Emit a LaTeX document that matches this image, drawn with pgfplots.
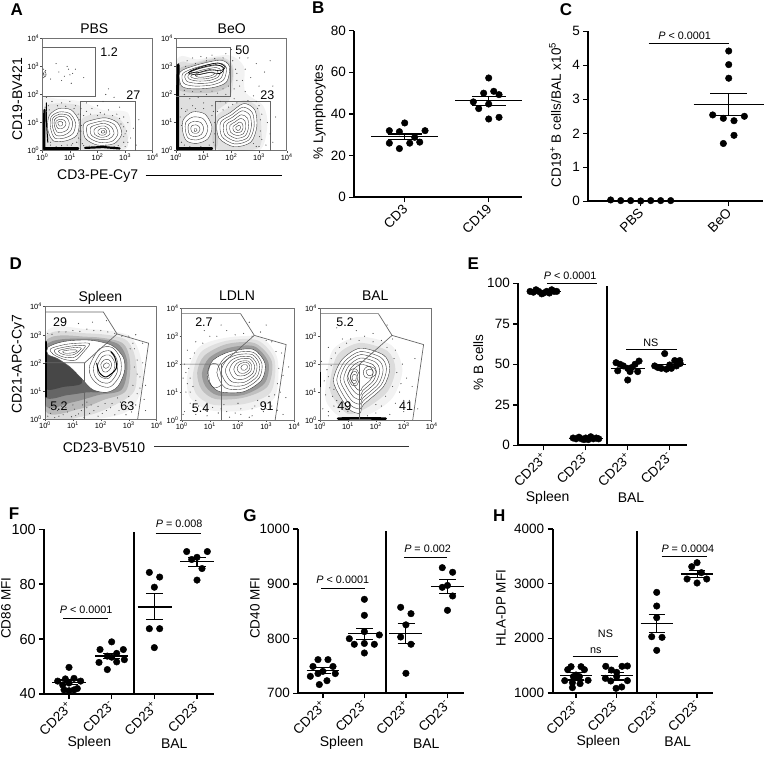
\documentclass[border=0pt]{standalone}
\usepackage{fontspec}
\setmainfont{Liberation Sans}
\usepackage{pgfplots}
\pgfplotsset{compat=1.18}

% 1 px of the reference = 1 pt here
\pgfplotsset{
  dot/.style={scale only axis, clip=false, axis lines=left,
    axis line style={line width=1.7pt,-}, tick style={line width=1.5pt,black},
    major tick length=5pt, tick align=outside, xtick={0,1,2,3},
    tick label style={font=\fontsize{13.5}{15}\selectfont},
    xticklabel style={xshift=-3pt,rotate=45,anchor=north east,inner sep=0.5pt,font=\fontsize{13.5}{15}\selectfont},
    /pgf/number format/assume math mode=true, /pgf/number format/1000 sep={}, scaled ticks=false},
  flow/.style={scale only axis, width=112pt, height=112pt, xmin=0,xmax=4,ymin=0,ymax=4,
    xtick={0,1,2,3,4}, ytick={0,1,2,3,4},
    xticklabels={10\textsuperscript{0},10\textsuperscript{1},10\textsuperscript{2},10\textsuperscript{3},10\textsuperscript{4}},
    yticklabels={10\textsuperscript{0},10\textsuperscript{1},10\textsuperscript{2},10\textsuperscript{3},10\textsuperscript{4}},
    xtick pos=bottom, ytick pos=left, tick align=outside, major tick length=2pt,
    axis line style={black!55,line width=0.6pt}, tick style={black!70,line width=0.4pt},
    tick label style={font=\fontsize{7.5}{8}\selectfont,inner sep=1pt}},
  pts/.style={only marks,mark=*,mark size=3.3pt,black},
  mn/.style={black,line width=1.1pt},
  sg/.style={black,line width=0.9pt},
  dv/.style={black,line width=1.8pt},
  spk/.style={only marks,mark=*,mark size=0.28pt,black!70},
  ctr/.style={draw=black!78,line width=0.38pt,smooth cycle},
  dkr/.style={draw=black,line width=0.6pt,smooth cycle},
  top/.style={draw=black!78,line width=0.38pt,fill=white,smooth cycle},
  hal/.style={draw=none,fill=black,fill opacity=#1,smooth cycle},
  gate/.style={black!60,line width=0.7pt},
  band/.style={black,line width=#1,line cap=round},
}
\newcommand\lab[4][]{\node[#1] at (#2pt,{(758-#3)*1pt}) {#4};}
\newcommand\stats[8]{%
  \addplot[mn] coordinates {(#1,#3)(#2,#3)};
  \addplot[mn] coordinates {(#4,#6)(#5,#6)};
  \addplot[mn] coordinates {(#4,#7)(#5,#7)};
  \addplot[mn] coordinates {(#8,#6)(#8,#7)};}
\newcommand\ring[1]{\addplot[ctr] coordinates {#1};}
\newcommand\fs[1]{\fontsize{#1}{#1}\selectfont}
\newcommand\pv[1]{{\fs{10.8}\textit{P} #1}}
\newcommand\gates{%
  \addplot[gate] coordinates {(0,3.81)(2.09,3.81)(2.58,3.03)(1.42,2.0)(0,2.0)};
  \addplot[gate] coordinates {(2.58,3.03)(3.71,2.7)(3.32,0)};
  \addplot[gate] coordinates {(1.42,2.0)(1.42,0)};}
\def\cdlabels{CD23\textsuperscript{+},CD23\textsuperscript{-},CD23\textsuperscript{+},CD23\textsuperscript{-}}

\begin{document}
\begin{tikzpicture}
\path[use as bounding box] (0,0) rectangle (774pt,758pt);

% panel letters
\lab[font=\fs{17}\bfseries]{16.7}{10}{A}
\lab[font=\fs{17}\bfseries]{318.3}{8}{B}
\lab[font=\fs{17}\bfseries]{566}{9.3}{C}
\lab[font=\fs{17}\bfseries]{15.7}{263.3}{D}
\lab[font=\fs{17}\bfseries]{473.3}{263.5}{E}
\lab[font=\fs{17}\bfseries]{14}{514}{F}
\lab[font=\fs{17}\bfseries]{250}{516}{G}
\lab[font=\fs{17}\bfseries]{499.3}{515.7}{H}

% ---------- A, PBS
\begin{axis}[flow, at={(42.3pt,607.3pt)}, anchor=south west, width=110.4pt, height=112.4pt]
\addplot[hal=0.04] coordinates {(0,0)(1.3,0)(2.6,0)(3.15,.5)(3.1,1.35)(2.2,1.45)(1.4,1.75)(.5,1.85)(0,1.8)};
\addplot[hal=0.07] coordinates {(.05,.05)(1.35,.05)(1.38,1.1)(1.35,1.6)(.5,1.68)(.08,1.5)};
\addplot[hal=0.07] coordinates {(1.4,.05)(3,.05)(3.02,.8)(2.7,1.2)(2,1.3)(1.42,1.1)};
\addplot[spk] coordinates {(.6,2.8)(.9,3.0)(1.0,2.7)(.7,2.5)(1.2,2.9)(1.05,2.4)(.5,3.1)(1.5,2.6)(.3,2.55)(.95,2.9)(.8,2.65)(1.1,2.75)(2.3,2.0)(2.4,2.2)(2.2,1.75)(2.6,1.9)(.05,2.75)(.05,2.6)(.1,2.7)(.12,2.85)(.05,2.9)
 (1.4,1.5)(1.6,1.4)(1.8,1.5)(2.1,1.35)(2.4,1.45)(2.7,1.3)(2.95,1.2)(3.1,1.0)(3.05,.7)(3.2,.45)(3.1,.3)(2.95,.5)(1.38,1.3)(1.42,.9)(.15,1.9)(.35,1.75)(.7,1.7)(1,1.75)(1.2,1.6)(.1,1.55)(.15,1.4)(1.38,.4)(1.45,.25)(.3,.2)(.5,.15)(.9,.2)(1.1,.25)(1.25,.3)(1.9,.15)(2.3,.2)(2.6,.15)(3,.15)(2.85,.95)(3.3,.8)(3.4,.2)(3.5,1.1)(.22,1.6)(1.6,1.7)(2,1.6)(2.8,1.55)
 (1.36,1.1)(1.4,.7)(1.5,1.25)(1.75,1.3)(2,1.25)(2.25,1.3)(2.55,1.25)(2.8,1.15)(2.95,.85)(3,.6)(2.95,.3)(2.75,.18)(1.5,.18)(1.7,.16)(.25,1.45)(.55,1.6)(.85,1.58)(1.15,1.5)(1.3,1.3)(1.36,.7)(1.32,.45)(1.05,.2)(.7,.18)(.3,.3)(.2,.45)};
\addplot[band=2.4pt] coordinates {(.07,.05)(.07,.9)(.08,1.45)};
\addplot[band=1pt] coordinates {(.15,1.7)(.15,1.0)(.2,.3)};
\addplot[band=2.2pt] coordinates {(.1,.08)(.7,.08)(1.3,.08)};
\addplot[band=2.2pt] coordinates {(1.55,.1)(2.2,.13)(2.8,.08)};
\addplot[top] coordinates {(.25,1.25)(.6,1.5)(1.05,1.45)(1.33,1.05)(1.25,.55)(.85,.35)(.4,.35)(.2,.75)};
\ring{(.32,1.2)(.62,1.38)(1.0,1.32)(1.2,1.0)(1.12,.62)(.8,.45)(.45,.45)(.3,.8)}
\ring{(.38,1.15)(.62,1.3)(.95,1.25)(1.1,1.0)(1.02,.7)(.78,.55)(.5,.55)(.37,.85)}
\ring{(.44,1.1)(.62,1.22)(.88,1.18)(.98,.98)(.92,.76)(.74,.66)(.54,.66)(.44,.88)}
\ring{(.5,1.05)(.64,1.12)(.8,1.08)(.86,.96)(.8,.84)(.68,.78)(.56,.8)(.5,.92)}
\ring{(.56,1)(.66,1.05)(.74,1)(.72,.9)(.62,.88)}
\addplot[top] coordinates {(1.5,.95)(1.85,1.1)(2.3,1.17)(2.72,1.0)(2.88,.6)(2.6,.25)(2.0,.2)(1.55,.45)};
\ring{(1.62,.88)(1.9,1.0)(2.28,1.06)(2.62,.92)(2.74,.6)(2.52,.33)(2.05,.3)(1.66,.5)}
\ring{(1.75,.82)(1.98,.93)(2.26,.97)(2.5,.85)(2.6,.6)(2.42,.42)(2.08,.4)(1.78,.55)}
\ring{(1.88,.76)(2.05,.86)(2.25,.88)(2.4,.78)(2.45,.6)(2.32,.5)(2.1,.48)(1.9,.58)}
\ring{(2.02,.72)(2.15,.8)(2.28,.78)(2.34,.66)(2.25,.56)(2.1,.56)(2.02,.62)}
\ring{(2.14,.7)(2.24,.72)(2.28,.66)(2.2,.62)(2.14,.64)}
\ring{(.04,2.75)(.1,2.82)(.14,2.7)(.08,2.62)}
\addplot[gate] coordinates {(0,3.68)(1.93,3.68)(1.93,1.92)(0,1.92)};
\addplot[gate] coordinates {(1.38,0)(1.38,1.76)(3.37,1.76)(3.37,0)};
\node[font=\fs{12.5}] at (axis cs:2.42,3.5) {1.2};
\node[font=\fs{12.5}] at (axis cs:3.3,1.98) {27};
\end{axis}

% ---------- A, BeO
\begin{axis}[flow, at={(176pt,607.3pt)}, anchor=south west, width=110.7pt, height=112.4pt]
\addplot[hal=0.05] coordinates {(0,0)(1.6,0)(3,0)(3.3,.9)(3.15,1.6)(2.5,2.1)(2.45,3)(1.9,3.4)(.8,3.25)(0,3.15)};
\addplot[hal=0.08] coordinates {(.05,.05)(1.45,.1)(1.42,1.3)(1.9,1.75)(2.05,2.3)(2.05,3.05)(1.6,3.33)(.6,3.12)(.05,2.95)};
\addplot[hal=0.1] coordinates {(.05,2.2)(.7,2.05)(1.5,2.1)(2,2.4)(2.02,3)(1.6,3.28)(.7,3.1)(.1,2.9)};
\addplot[hal=0.07] coordinates {(1.42,.08)(2.95,.08)(3.08,.9)(2.95,1.55)(2.45,1.8)(1.85,1.5)(1.42,1.15)};
\addplot[spk] coordinates {(2.3,3.3)(2.5,2.9)(2.7,2.6)(2.4,2.5)(2.2,2.75)(2.6,3.3)(2.9,3.1)(3.2,2.8)(3.0,2.3)(2.8,1.95)(2.5,2.1)(2.3,2.3)(2.1,1.85)(1.8,2)(1.5,2.05)(1.1,2)(.8,1.9)(.5,1.85)(.3,2)(1.6,1.75)(1.3,1.6)(1,1.7)(.6,1.6)(.4,1.45)(1.35,1.4)(1.4,1.0)(1.4,.6)(1.35,.3)(1.42,.2)
 (3,1.6)(3.1,1.3)(3.3,1.0)(3.05,.7)(3.1,.4)(3.25,.2)(3,.15)(2.8,.25)(3.4,.6)(3.5,.3)(3.6,1.2)(2.9,1.75)(2.2,1.7)(1.9,1.55)(1.7,1.45)(.9,3.35)(1.3,3.4)(1.8,3.45)(.4,3.2)(2,3.6)(.1,3.1)(.6,3.3)(1.1,3.3)(3.4,3.2)(3.5,2.3)(1.2,.2)(.9,.15)(.5,.15)(.2,1.5)(.15,1.2)
 (2.1,2.2)(2.2,2.5)(2.15,2.9)(2.05,3.2)(1.7,3.3)(1.4,3.28)(1.1,3.2)(.7,3.1)(.35,3)(.3,2.15)(.6,2.1)(.9,2.1)(1.3,2.12)(1.7,2.2)(1.9,2.3)(1.5,1.4)(1.8,1.7)(2.05,1.65)(2.6,1.78)(2.95,1.5)(3.05,1.1)(3.02,.5)(2.9,.15)(.2,.3)(.3,.2)(.2,.9)(.35,1.4)(.7,1.5)(1,1.5)(1.3,1.25)};
\addplot[band=3pt] coordinates {(.06,.05)(.06,1.2)(.06,2.2)(.08,3.05)};
\addplot[band=2.4pt] coordinates {(.1,.08)(.7,.08)(1.3,.08)};
\addplot[top] coordinates {(.15,2.8)(.75,3.05)(1.6,3.22)(1.93,3.0)(1.83,2.45)(1.35,2.25)(.65,2.2)(.2,2.3)};
\ring{(.25,2.75)(.8,2.98)(1.55,3.12)(1.82,2.95)(1.72,2.52)(1.3,2.34)(.68,2.3)(.28,2.4)}
\ring{(.35,2.72)(.85,2.92)(1.5,3.04)(1.72,2.9)(1.62,2.58)(1.25,2.42)(.72,2.4)(.38,2.48)}
\addplot[dkr] coordinates {(.45,2.78)(.9,2.95)(1.45,3.06)(1.72,2.95)(1.6,2.75)(1.2,2.78)(.75,2.7)};
\addplot[dkr] coordinates {(.5,2.82)(.95,3.0)(1.5,3.12)(1.78,2.98)(1.62,2.85)(1.2,2.88)(.8,2.78)};
\ring{(.45,2.7)(.9,2.86)(1.45,2.96)(1.62,2.85)(1.52,2.62)(1.2,2.5)(.78,2.48)(.48,2.55)}
\ring{(.55,2.68)(.95,2.8)(1.4,2.88)(1.52,2.8)(1.42,2.65)(1.15,2.57)(.82,2.55)(.58,2.6)}
\ring{(.7,2.68)(1.0,2.74)(1.3,2.8)(1.4,2.74)(1.25,2.66)(1,2.62)(.8,2.62)}
\addplot[top] coordinates {(.26,1.1)(.6,1.38)(1.05,1.3)(1.3,.85)(1.15,.42)(.75,.26)(.38,.35)(.24,.7)};
\ring{(.36,1.02)(.62,1.2)(.98,1.14)(1.15,.82)(1.04,.5)(.72,.38)(.44,.45)(.34,.72)}
\ring{(.46,.95)(.66,1.05)(.9,1.0)(1.0,.8)(.92,.58)(.7,.5)(.5,.56)(.44,.75)}
\ring{(.56,.88)(.72,.92)(.84,.85)(.86,.72)(.76,.62)(.6,.64)(.54,.75)}
\ring{(.66,.78)(.74,.78)(.76,.72)(.68,.68)}
\addplot[top] coordinates {(1.5,1.05)(1.95,1.35)(2.45,1.68)(2.85,1.45)(2.92,.85)(2.7,.3)(2.1,.14)(1.55,.45)};
\ring{(1.61,1.01)(2.0,1.27)(2.42,1.55)(2.76,1.35)(2.82,.84)(2.63,.38)(2.12,.24)(1.66,.5)}
\ring{(1.73,.98)(2.04,1.19)(2.39,1.42)(2.67,1.26)(2.72,.84)(2.57,.45)(2.15,.34)(1.76,.56)}
\ring{(1.84,.94)(2.09,1.10)(2.36,1.28)(2.58,1.16)(2.62,.83)(2.5,.53)(2.17,.44)(1.87,.61)}
\ring{(1.95,.9)(2.13,1.02)(2.33,1.15)(2.49,1.06)(2.52,.82)(2.43,.6)(2.19,.54)(1.97,.66)}
\ring{(2.06,.86)(2.18,.94)(2.3,1.02)(2.4,.96)(2.42,.81)(2.36,.68)(2.21,.64)(2.08,.71)}
\ring{(2.16,.83)(2.21,.87)(2.27,.9)(2.32,.88)(2.33,.81)(2.3,.74)(2.23,.72)(2.17,.76)}
\addplot[gate] coordinates {(0,3.68)(1.97,3.68)(1.97,1.92)(0,1.92)};
\addplot[gate] coordinates {(1.42,0)(1.42,1.76)(3.41,1.76)(3.41,0)};
\node[font=\fs{12.5}] at (axis cs:2.4,3.58) {50};
\node[font=\fs{12.5}] at (axis cs:3.3,1.96) {23};
\end{axis}

\lab[font=\fs{14}]{94.3}{29}{PBS}
\lab[font=\fs{14}]{231.7}{29}{BeO}
\lab[font=\fs{14},rotate=90]{17.3}{99}{CD19-BV421}
\lab[font=\fs{14}]{97.7}{176}{CD3-PE-Cy7}
\draw[black,line width=0.9pt] (145.7pt,582.7pt) -- (282pt,582.7pt);

% ---------- B
\begin{axis}[dot, at={(354.3pt,560.7pt)}, anchor=south west, width=168pt, height=166.6pt,
  xmin=-0.6, xmax=1.4, ymin=0, ymax=80, ytick={0,20,40,60,80},
  xtick={0,1}, xticklabels={CD3,CD19}]
\addplot[pts] coordinates {(0,35.7)(-.183,32)(-.063,31.5)(.242,32)(.119,28.8)(-.183,26)(.06,26)(.179,26.5)(-.063,23.4)};
\addplot[pts] coordinates {(1,57.3)(.94,50)(1.06,50.9)(1.123,49.3)(.817,45.8)(1,44.8)(.881,42.6)(1,37.6)(1.123,38.4)};
\stats{-.4}{.4}{29.1}{-.2}{.2}{30.4}{27.8}{0}
\stats{.6}{1.4}{46.4}{.8}{1.2}{48.5}{44.2}{1}
\end{axis}
\lab[font=\fs{13.5},rotate=90]{319.3}{112.3}{\% Lymphocytes}

% ---------- C
\begin{axis}[dot, at={(588.3pt,556.7pt)}, anchor=south west, width=174.4pt, height=170pt,
  xmin=-0.595, xmax=1.386, ymin=0, ymax=5, ytick={0,1,2,3,4,5},
  xtick={0,1}, xticklabels={PBS,BeO}]
\addplot[pts] coordinates {(-.341,.04)(-.227,.02)(-.114,.02)(0,.01)(.114,.02)(.227,.02)(.341,.02)};
\addplot[pts] coordinates {(1,4.42)(1,4.02)(1,3.62)(.818,2.54)(.939,2.44)(1.06,2.37)(1.178,2.5)(1.06,1.94)(.939,1.7)};
\stats{.6}{1.4}{2.84}{.79}{1.21}{3.16}{2.52}{1}
\addplot[sg] coordinates {(.09,4.65)(1,4.65)};
\node[font=\fs{10.8}] at (axis cs:.5,4.87) {\pv{< 0.0001}};
\end{axis}
\lab[font=\fs{13.5},rotate=90]{555}{115}{CD19\textsuperscript{+} B cells/BAL x10\textsuperscript{5}}

% ---------- D, Spleen
\begin{axis}[flow, at={(45pt,339pt)}, anchor=south west, width=111.7pt, height=112.3pt]
\addplot[hal=0.05] coordinates {(0,0)(1.8,0)(3,.3)(3.5,1.2)(3.4,2.3)(2.95,3)(1.5,3.2)(0,3.05)};
\addplot[hal=0.09] coordinates {(0,.1)(1.4,.1)(2.4,.45)(3.2,1)(3.25,2.1)(2.85,2.85)(1.5,3.05)(0,2.9)};
\addplot[hal=0.16] coordinates {(0,.3)(1.2,.35)(2.1,.68)(2.9,1.0)(3.05,2.0)(2.75,2.72)(1.5,2.93)(0,2.75)};
\addplot[hal=0.22] coordinates {(0,.5)(1,.6)(1.9,.85)(2.75,1.05)(2.95,2)(2.6,2.68)(1.5,2.86)(0,2.6)};
\addplot[hal=0.3] coordinates {(0,.8)(.8,.85)(1.5,.95)(2.0,1.0)(1.2,1.6)(.6,2.05)(0,2.3)};
\addplot[hal=0.3] coordinates {(0,1.1)(.7,1.15)(1.3,1.25)(1.2,1.6)(.6,2.05)(0,2.3)};
\addplot[spk] coordinates {(.2,.2)(.5,.1)(.8,.25)(1.1,.12)(1.3,.3)(1.6,.2)(1.9,.1)(2.2,.3)(2.5,.15)(2.8,.35)(3.1,.6)(3.3,.9)(3.4,1.5)(3.5,2)(3.2,2.5)(3,2.95)(2.5,3.05)(2,3.15)(1.5,3.2)(1,3.15)(.5,3.1)(.1,3.05)(3.6,1.2)(3.55,.7)(.6,.45)(1,.5)(1.5,.6)(2.4,.55)(2.7,.6)(3.1,.25)(3.6,.3)(2.9,.15)(1.4,.05)(.35,.35)(1.9,.45)(3.25,3)(3.5,2.7)(1.2,3.4)(2.2,3.5)(.7,3.6)(1.7,3.45)
 (.1,.1)(.35,.05)(.65,.15)(.95,.08)(1.2,.18)(1.5,.4)(1.75,.3)(2.05,.2)(2.35,.4)(2.65,.3)(2.95,.45)(3.25,.5)(3.4,1.1)(3.3,1.6)(3.3,2.1)(3.15,2.7)(2.75,2.95)(2.25,3.1)(1.75,3.15)(1.25,3.12)(.75,3.1)(.25,3.02)(.15,.4)(.45,.3)(.75,.4)(1.05,.35)(1.35,.5)(1.65,.5)(2.15,.55)(2.6,.75)(3,.8)(3.15,1.2)(3.2,1.85)(3.05,2.5)};
\addplot[band=2pt] coordinates {(.03,.8)(.03,1.6)(.03,2.75)};
\addplot[top] coordinates {(.1,2.55)(.5,2.72)(1.0,2.8)(1.7,2.8)(2.4,2.62)(2.8,2.2)(2.85,1.7)(2.6,1.15)(2.2,.95)(1.7,1.05)(1.3,1.45)(.9,1.85)(.45,2.15)(.1,2.3)};
\ring{(.2,2.5)(.7,2.65)(1.2,2.7)(1.6,2.68)(1.35,2.35)(1.1,2.1)(.7,2.12)(.3,2.3)}
\ring{(.35,2.47)(.8,2.58)(1.2,2.62)(1.45,2.6)(1.25,2.35)(1.05,2.2)(.7,2.2)(.4,2.32)}
\ring{(.5,2.44)(.85,2.52)(1.15,2.55)(1.3,2.52)(1.15,2.36)(.98,2.28)(.72,2.28)(.52,2.36)}
\ring{(.65,2.42)(.9,2.46)(1.1,2.46)(1.15,2.42)(1.0,2.36)(.8,2.34)(.66,2.36)}
\ring{(1.6,1.9)(1.95,2.5)(2.4,2.55)(2.7,2.15)(2.7,1.6)(2.35,1.15)(1.95,1.2)(1.65,1.5)}
\ring{(1.75,1.9)(2.0,2.35)(2.35,2.42)(2.58,2.1)(2.58,1.65)(2.32,1.3)(2.0,1.32)(1.78,1.55)}
\ring{(1.88,1.9)(2.05,2.22)(2.3,2.28)(2.48,2.05)(2.46,1.7)(2.28,1.45)(2.05,1.47)(1.9,1.62)}
\ring{(2.0,1.95)(2.12,2.1)(2.28,2.12)(2.38,1.98)(2.35,1.8)(2.22,1.68)(2.08,1.7)}
\ring{(2.1,1.93)(2.2,2.0)(2.3,1.95)(2.28,1.85)(2.18,1.8)(2.1,1.85)}
\addplot[black,line width=1pt,smooth] coordinates {(1.85,2.0)(1.95,1.65)(2.2,1.5)(2.55,1.8)(2.5,2.2)(2.35,2.4)};
\gates
\node[font=\fs{12.5}] at (axis cs:.54,3.44) {29};
\node[font=\fs{12.5}] at (axis cs:.5,.44) {5.2};
\node[font=\fs{12.5}] at (axis cs:2.95,.44) {63};
\end{axis}

% ---------- D, LDLN
\begin{axis}[flow, at={(181.7pt,338pt)}, anchor=south west, width=112.6pt, height=111.7pt]
\addplot[hal=0.05] coordinates {(.2,1.6)(.6,2.6)(1.6,2.95)(2.8,2.95)(3.4,2.2)(3.3,.8)(2.3,.35)(1.0,.35)(.3,.8)};
\addplot[hal=0.08] coordinates {(.4,1.65)(.7,2.45)(1.6,2.84)(2.7,2.85)(3.3,2.15)(3.17,1.0)(2.25,.58)(1.1,.55)(.5,.95)};
\addplot[hal=0.14] coordinates {(.55,1.7)(.8,2.3)(1.6,2.72)(2.6,2.75)(3.2,2.1)(3.05,1.2)(2.2,.8)(1.2,.75)(.7,1.1)};
\addplot[hal=0.2] coordinates {(.72,1.68)(.97,2.22)(1.66,2.58)(2.57,2.64)(3.08,2.06)(2.95,1.32)(2.2,.9)(1.28,.88)(.85,1.2)};
\addplot[spk] coordinates {(.1,.3)(.5,.2)(.9,.15)(1.3,.25)(1.7,.1)(2.1,.2)(2.5,.15)(2.9,.3)(3.2,.5)(3.5,1)(3.6,1.6)(3.55,2.4)(3.2,2.8)(2.8,3.15)(2.2,3.1)(1.6,3.2)(1,3)(.5,2.8)(.2,2.5)(.1,2)(.05,1.5)(.15,1)(.3,.6)(.6,.5)(1.1,.45)(1.6,.3)(2.1,.4)(2.6,.5)(3,.4)(3.4,.35)(3.7,.8)(3.8,1.9)(.4,1.2)(.15,1.7)(.3,2.2)(1.4,3.4)(2.4,3.5)(.8,3.2)(3,3.4)(.05,.2)(3.6,.2)(2.4,.1)
 (.3,1.5)(.25,1.85)(.45,2.4)(.75,2.75)(1.25,3)(1.9,3.05)(2.5,3)(3,2.85)(3.35,2.45)(3.45,1.85)(3.4,1.3)(3.3,.9)(2.95,.6)(2.5,.4)(1.9,.25)(1.4,.4)(.85,.35)(.5,.7)(.3,1)(.2,1.3)(.9,.6)(1.5,.55)(2,.6)(2.7,.7)(3.1,.85)};
\addplot[top] coordinates {(.91,1.67)(1.12,2.15)(1.72,2.45)(2.54,2.53)(2.96,2.03)(2.84,1.43)(2.19,1.01)(1.36,1.01)(1.0,1.31)};
\ring{(.95,1.75)(1.05,2.0)(1.3,1.95)(1.42,1.3)(1.15,1.15)(1.0,1.35)}
\ring{(1.25,1.7)(1.5,2.2)(1.95,2.42)(2.55,2.42)(2.85,2.02)(2.75,1.5)(2.2,1.12)(1.55,1.15)}
\ring{(1.4,1.73)(1.61,2.16)(2,2.34)(2.51,2.34)(2.76,2)(2.68,1.56)(2.21,1.24)(1.66,1.26)}
\ring{(1.55,1.76)(1.73,2.11)(2.04,2.26)(2.46,2.26)(2.67,1.98)(2.6,1.62)(2.22,1.35)(1.76,1.38)}
\ring{(1.7,1.79)(1.84,2.07)(2.09,2.19)(2.42,2.19)(2.58,1.97)(2.53,1.68)(2.22,1.47)(1.87,1.49)}
\ring{(1.85,1.82)(1.95,2.02)(2.13,2.11)(2.37,2.11)(2.49,1.95)(2.45,1.74)(2.23,1.59)(1.97,1.6)}
\ring{(1.97,1.84)(2.04,1.98)(2.17,2.05)(2.33,2.05)(2.42,1.93)(2.39,1.79)(2.24,1.68)(2.05,1.69)}
\ring{(2.1,1.87)(2.14,1.95)(2.2,1.98)(2.3,1.98)(2.34,1.92)(2.32,1.84)(2.24,1.78)(2.15,1.79)}
\gates
\node[font=\fs{12.5}] at (axis cs:.79,3.5) {2.7};
\node[font=\fs{12.5}] at (axis cs:.67,.42) {5.4};
\node[font=\fs{12.5}] at (axis cs:3.02,.48) {91};
\end{axis}

% ---------- D, BAL
\begin{axis}[flow, at={(320pt,338pt)}, anchor=south west, width=111.7pt, height=111.7pt]
\addplot[hal=0.05] coordinates {(.2,1.2)(.45,2.5)(1.4,2.98)(2.55,2.68)(2.95,1.8)(2.6,.8)(1.75,.2)(.8,.08)(.25,.6)};
\addplot[hal=0.09] coordinates {(.35,1.25)(.62,2.32)(1.42,2.76)(2.42,2.47)(2.7,1.82)(2.42,1.02)(1.65,.42)(1.0,.22)(.5,.75)};
\addplot[spk] coordinates {(.1,.4)(.3,.3)(.2,.9)(.15,1.4)(.25,1.8)(.4,2.2)(.7,2.6)(1.1,2.9)(1.6,3.0)(2.2,2.85)(2.7,2.5)(2.95,2)(3.1,1.5)(2.85,1)(2.7,.6)(2.2,.5)(2,.25)(2.5,.2)(3,.3)(.5,.5)(.7,.3)(1,.3)(3.2,.7)(3.3,1.2)(2.6,2.9)(1.9,3.1)(1.3,3.2)(.8,2.9)(.3,2.6)(.05,2.1)(3.5,.4)(3.4,2.2)(.6,3.3)(2.4,3.4)(.3,.15)(1.7,.15)(.5,1.1)(.45,.85)
 (.3,1.55)(.4,1.95)(.55,2.4)(.95,2.75)(1.4,2.85)(1.9,2.8)(2.4,2.6)(2.65,2.2)(2.75,1.7)(2.6,1.2)(2.35,.85)(2,.55)(.6,.7)(.35,1.15)(2.9,1.3)(3,.7)};
\addplot[band=1.2pt] coordinates {(.03,1.2)(.03,1.7)};
\addplot[band=2.6pt] coordinates {(.65,.05)(1.4,.06)(2.35,.05)};
\addplot[top] coordinates {(.48,1.43)(.78,2.15)(1.43,2.57)(2.27,2.33)(2.5,1.85)(2.27,1.19)(1.55,.54)(1.43,.24)(1.07,.36)(.72,.84)};
\ring{(.6,1.45)(.87,2.08)(1.44,2.45)(2.18,2.24)(2.38,1.82)(2.18,1.24)(1.54,.67)(1.44,.4)(1.12,.51)(.81,.93)}
\ring{(.72,1.47)(.95,2.02)(1.45,2.34)(2.09,2.15)(2.26,1.79)(2.09,1.29)(1.54,.79)(1.45,.57)(1.17,.66)(.91,1.02)}
\ring{(.85,1.49)(1.04,1.95)(1.46,2.22)(1.99,2.07)(2.14,1.76)(1.99,1.34)(1.53,.92)(1.46,.73)(1.22,.81)(1,1.11)}
\ring{(.97,1.51)(1.13,1.89)(1.46,2.1)(1.9,1.98)(2.02,1.73)(1.9,1.39)(1.53,1.05)(1.46,.89)(1.28,.96)(1.09,1.2)}
\ring{(1.09,1.53)(1.21,1.82)(1.47,1.99)(1.81,1.89)(1.9,1.7)(1.81,1.44)(1.52,1.18)(1.47,1.06)(1.33,1.1)(1.19,1.3)}
\ring{(1.0,1.55)(1.1,1.8)(1.3,1.82)(1.42,1.55)(1.32,1.25)(1.15,1.25)}
\ring{(1.08,1.55)(1.18,1.72)(1.3,1.72)(1.36,1.52)(1.28,1.32)(1.15,1.34)}
\ring{(1.15,1.55)(1.23,1.64)(1.3,1.6)(1.28,1.42)(1.18,1.42)}
\ring{(1.55,1.75)(1.7,1.92)(1.95,1.85)(2.0,1.65)(1.8,1.5)(1.6,1.55)}
\ring{(1.65,1.75)(1.78,1.82)(1.9,1.76)(1.88,1.62)(1.72,1.6)}
\gates
\node[font=\fs{12.5}] at (axis cs:.9,3.5) {5.2};
\node[font=\fs{12.5}] at (axis cs:.87,.48) {49};
\node[font=\fs{12.5}] at (axis cs:3.08,.51) {41};
\end{axis}

\lab[font=\fs{14}]{100.3}{298}{Spleen}
\lab[font=\fs{14}]{237}{295.7}{LDLN}
\lab[font=\fs{14}]{375.3}{295.7}{BAL}
\lab[font=\fs{14},rotate=90]{18.3}{364.3}{CD21-APC-Cy7}
\lab[font=\fs{14}]{104}{447.3}{CD23-BV510}
\draw[black!80,line width=1.3pt] (154.3pt,311.3pt) -- (408.7pt,311.3pt);

% ---------- E
\begin{axis}[dot, at={(518.3pt,312.7pt)}, anchor=south west, width=168.4pt, height=162pt,
  xmin=-0.605, xmax=3.405, ymin=0, ymax=100, ytick={0,25,50,75,100},
  xticklabels/.expand once={\cdlabels}]
\addplot[pts] coordinates {(-.325,95)(-.246,94.5)(-.183,96)(-.119,95)(-.048,93.5)(0,94)(.071,95)(.135,94)(.19,96)(.246,95)(.31,95)};
\addplot[pts] coordinates {(.7,4.5)(.77,4)(.84,5)(.9,4)(.96,3.5)(1,4.5)(1.06,3.5)(1.12,5.3)(1.18,4)(1.25,4.5)(1.31,4)};
\addplot[pts] coordinates {(1.722,51)(1.817,50)(1.762,46)(1.897,49)(2,40.3)(2,47.5)(2.095,48)(2.056,45.5)(2.175,50)(2.27,52)(2.238,45.5)};
\addplot[pts] coordinates {(2.881,56.6)(2.643,49)(2.72,48)(2.8,47.5)(2.92,47)(3.04,47.5)(3.16,49)(3.25,50.5)(3.12,52.3)(3.24,52.3)(3,49.6)};
\addplot[mn] coordinates {(1.6,47.5)(2.4,47.5)};
\addplot[mn] coordinates {(2.61,49.6)(3.4,49.6)};
\addplot[mn] coordinates {(-.4,95)(.4,95)};
\addplot[mn] coordinates {(.6,4.4)(1.4,4.4)};
\addplot[dv] coordinates {(1.51,0)(1.51,98.4)};
\addplot[sg] coordinates {(.08,100)(1.27,100)};
\addplot[sg] coordinates {(1.96,59)(3.18,59)};
\node[font=\fs{10.8}] at (axis cs:.63,104.6) {\pv{< 0.0001}};
\node[font=\fs{10.8}] at (axis cs:2.55,63.3) {NS};
\end{axis}
\lab[font=\fs{13.5},rotate=90]{478.3}{362.3}{\% B cells}
\lab[font=\fs{14}]{547.7}{497.5}{Spleen}
\lab[font=\fs{14}]{631}{497.5}{BAL}

% ---------- F
\begin{axis}[dot, at={(44.3pt,64pt)}, anchor=south west, width=169.7pt, height=164.7pt,
  xmin=-0.579, xmax=3.398, ymin=40, ymax=100, ytick={40,60,80,100},
  yticklabel style={font=\fs{14.5}},
  xticklabels/.expand once={\cdlabels}]
\addplot[pts] coordinates {(0,49.7)(-.266,44.7)(-.086,45.5)(.117,45.7)(.273,44.7)(-.148,43.3)(0,44)(-.117,41.5)(0,41.2)(.117,41.5)(.195,42)};
\addplot[pts] coordinates {(1,59)(.727,56.2)(1.273,56.2)(.898,53.8)(1.117,54.8)(.703,51.5)(1.297,52.5)(1,53.4)(1.117,51.7)(.898,48.9)};
\addplot[pts] coordinates {(1.883,84.3)(2.125,82.6)(2,78.9)(1.883,63.8)(2.125,63.8)(2,56.9)};
\addplot[pts] coordinates {(2.758,91.9)(3.242,91.9)(3,89.8)(2.875,89)(3.117,85.7)(3,81.5)};
\stats{-.39}{.39}{44.25}{-.2}{.2}{45.1}{43.5}{0}
\stats{.61}{1.39}{53.85}{.8}{1.2}{54.7}{52.9}{1}
\stats{1.61}{2.41}{71.7}{1.8}{2.21}{76.6}{67.1}{2}
\stats{2.61}{3.4}{88.2}{2.8}{3.2}{89.8}{86.5}{3}
\addplot[dv] coordinates {(1.516,40)(1.516,99.2)};
\addplot[sg] coordinates {(-.13,67.6)(.92,67.6)};
\addplot[sg] coordinates {(2.03,98.5)(3.1,98.5)};
\node[font=\fs{10.8}] at (axis cs:.4,70.7) {\pv{< 0.0001}};
\node[font=\fs{10.8}] at (axis cs:2.58,102.1) {\pv{= 0.008}};
\end{axis}
\lab[font=\fs{13.5},rotate=90]{6}{608}{CD86 MFI}
\lab[font=\fs{14}]{89.3}{743.3}{Spleen}
\lab[font=\fs{14}]{174.3}{743.3}{BAL}

% ---------- G
\begin{axis}[dot, at={(298.3pt,64.7pt)}, anchor=south west, width=166pt, height=164.3pt,
  xmin=-0.59, xmax=3.405, ymin=700, ymax=1000, ytick={700,800,900,1000},
  xticklabels/.expand once={\cdlabels}]
\addplot[pts] coordinates {(-.3,731)(-.237,749)(-.116,761.5)(.124,761.5)(.245,749)(0,740)(.3,736)(.1,723)(-.084,716)(-.116,736)};
\addplot[pts] coordinates {(1,871.6)(1,842.4)(1,812.6)(.638,799.8)(1.36,806.5)(.758,789.5)(1,791)(1.24,789.5)(1,773.6)};
\addplot[pts] coordinates {(1.873,857)(2.122,845.4)(2,825)(1.873,802.8)(2.122,789.5)(2,736.5)};
\addplot[pts] coordinates {(2.875,929.4)(3.124,921)(3,897)(2.875,893.5)(3.124,877.7)(3,851.5)};
\stats{-.39}{.39}{741.4}{-.2}{.2}{747}{736.5}{0}
\stats{.61}{1.42}{809}{.8}{1.215}{819}{799}{1}
\stats{1.6}{2.39}{809.5}{1.8}{2.22}{827}{791}{2}
\stats{2.6}{3.4}{895.3}{2.8}{3.21}{907}{883}{3}
\addplot[dv] coordinates {(1.512,700)(1.512,996)};
\addplot[sg] coordinates {(-.04,891.7)(1.015,891.7)};
\addplot[sg] coordinates {(1.95,947.7)(3,947.7)};
\node[font=\fs{10.8}] at (axis cs:.48,908) {\pv{< 0.0001}};
\node[font=\fs{10.8}] at (axis cs:2.52,964) {\pv{= 0.002}};
\end{axis}
\lab[font=\fs{13.5},rotate=90]{255}{608}{CD40 MFI}
\lab[font=\fs{14}]{341.7}{743.3}{Spleen}
\lab[font=\fs{14}]{426.3}{743.3}{BAL}

% ---------- H
\begin{axis}[dot, at={(552.7pt,65pt)}, anchor=south west, width=160pt, height=164pt,
  xmin=-0.579, xmax=3.388, ymin=1000, ymax=4000, ytick={1000,2000,3000,4000},
  xticklabels/.expand once={\cdlabels}]
\addplot[pts] coordinates {(-.124,1482)(.124,1482)(.207,1427)(-.207,1427)(0,1329)(-.066,1300)(.083,1300)(-.281,1226)(.298,1232)(-.09,1189)(.1,1171)(-.09,1098)};
\addplot[pts] coordinates {(.736,1488)(1.273,1494)(1.14,1488)(.876,1420)(1.008,1378)(.727,1268)(.86,1220)(1.008,1300)(1.273,1226)(1.132,1110)(.992,1085)};
\addplot[pts] coordinates {(2,2841)(2,2591)(2,2378)(1.876,2030)(2.132,2018)(2,1780)};
\addplot[pts] coordinates {(3,3384)(2.868,3311)(3.107,3201)(2.752,3085)(3.24,3085)(3,3012)};
\stats{-.39}{.39}{1323}{-.2}{.2}{1372}{1238}{0}
\stats{.61}{1.405}{1323}{.8}{1.2}{1372}{1238}{1}
\stats{1.6}{2.4}{2274}{1.8}{2.2}{2433}{2110}{2}
\stats{2.6}{3.39}{3177}{2.79}{3.2}{3238}{3116}{3}
\addplot[dv] coordinates {(1.512,1000)(1.512,3970)};
\addplot[sg] coordinates {(-.083,1677)(1.033,1677)};
\addplot[sg] coordinates {(2.124,3494)(3.24,3494)};
\node[font=\fs{10.8}] at (axis cs:.49,1780) {ns};
\node[font=\fs{10.8}] at (axis cs:.73,2080) {NS};
\node[font=\fs{10.8}] at (axis cs:2.77,3640) {\pv{= 0.0004}};
\end{axis}
\lab[font=\fs{13.5},rotate=90]{501}{608}{HLA-DP MFI}
\lab[font=\fs{14}]{598.3}{742}{Spleen}
\lab[font=\fs{14}]{677.7}{742}{BAL}
\end{tikzpicture}
\end{document}
